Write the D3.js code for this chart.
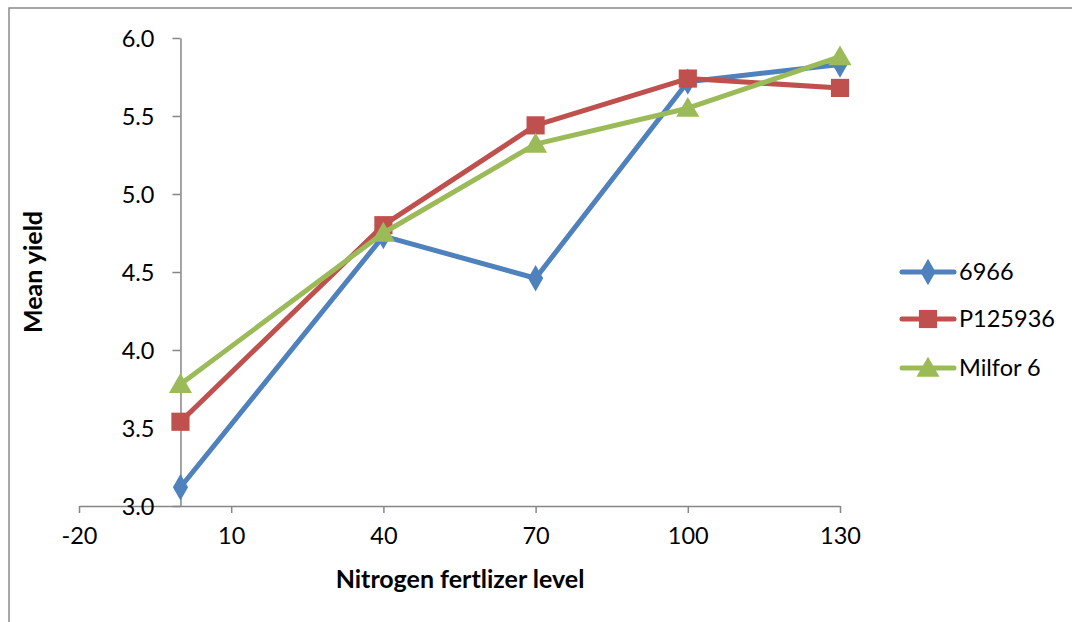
<!DOCTYPE html>
<html>
<head>
<meta charset="utf-8">
<script src="https://cdn.jsdelivr.net/npm/d3@7"></script>
<style>
  body { margin: 0; background: #fff; }
  svg { display: block; font-family: Lato, "Open Sans", sans-serif; }
</style>
</head>
<body>
<svg id="chart" width="1072" height="622"></svg>
<script>
// ---- data ----
const nitrogenLevels = [0, 40, 70, 100, 130];
const seriesNames = ["6966", "P125936", "Milfor 6"];
const yield6966 = [3.12, 4.73, 4.46, 5.72, 5.83];
const yieldP125936 = [3.54, 4.80, 5.44, 5.74, 5.68];
const yieldMilfor6 = [3.78, 4.75, 5.32, 5.55, 5.88];
const xTicks = [-20, 10, 40, 70, 100, 130];
const yTicks = [3.0, 3.5, 4.0, 4.5, 5.0, 5.5, 6.0];

const colors = ["#4F81BD", "#C0504D", "#9BBB59"];
const shapes = [d3.symbolDiamond, d3.symbolSquare, d3.symbolTriangle];
const symSizes = [200, 330, 230];

const series = seriesNames.map((name, i) => ({
  name,
  values: [yield6966, yieldP125936, yieldMilfor6][i].map((v, j) => ({ x: nitrogenLevels[j], y: v }))
}));

const svg = d3.select("#chart");

// outer border
svg.append("rect")
  .attr("x", 9).attr("y", 8)
  .attr("width", 1100).attr("height", 700)
  .attr("fill", "none").attr("stroke", "#8a8a8a").attr("stroke-width", 1.5);

const x = d3.scaleLinear().domain([-20, 130]).range([79, 840]);
const y = d3.scaleLinear().domain([3, 6]).range([506, 38]);

const axisColor = "#868686";
const fontSize = 23.5;

// x axis at y=3.0
const xAxisG = svg.append("g")
  .attr("transform", `translate(0,${y(3)})`)
  .call(d3.axisBottom(x).tickValues(xTicks).tickSize(7).tickSizeOuter(0).tickPadding(14).tickFormat(d => String(d)));
// y axis at x=0
const yAxisG = svg.append("g")
  .attr("transform", `translate(${x(0)},0)`)
  .call(d3.axisLeft(y).tickValues(yTicks).tickSize(8).tickSizeOuter(0).tickPadding(18).tickFormat(d3.format(".1f")));

[xAxisG, yAxisG].forEach(g => {
  g.select(".domain").attr("stroke", axisColor).attr("stroke-width", 1.5);
  g.selectAll(".tick line").attr("stroke", axisColor).attr("stroke-width", 1.5);
  g.selectAll(".tick text").attr("fill", "#000").style("font-size", fontSize + "px").style("font-family", "Lato, sans-serif");
});
yAxisG.selectAll(".tick text").attr("dy", "0.36em");

// axis titles
svg.append("text")
  .attr("x", 460).attr("y", 588)
  .attr("text-anchor", "middle")
  .style("font-size", "25px").style("font-weight", "bold")
  .text("Nitrogen fertlizer level");
svg.append("text")
  .attr("transform", "translate(42,272) rotate(-90)")
  .attr("text-anchor", "middle")
  .style("font-size", "25px").style("font-weight", "bold")
  .text("Mean yield");

// lines
const line = d3.line().x(d => x(d.x)).y(d => y(d.y));
const plot = svg.append("g");
series.forEach((s, i) => {
  plot.append("path")
    .datum(s.values)
    .attr("fill", "none")
    .attr("stroke", colors[i])
    .attr("stroke-width", 5)
    .attr("stroke-linejoin", "round")
    .attr("stroke-linecap", "round")
    .attr("d", line);
  plot.selectAll(null)
    .data(s.values)
    .enter().append("path")
    .attr("transform", d => `translate(${x(d.x)},${y(d.y) + (i === 2 ? 2 : 0)})`)
    .attr("d", d3.symbol().type(shapes[i]).size(symSizes[i]))
    .attr("fill", colors[i]);
});

// legend
const legendY = [272, 319, 368];
const leg = svg.append("g");
series.forEach((s, i) => {
  const g = leg.append("g").attr("transform", `translate(0,${legendY[i]})`);
  g.append("line")
    .attr("x1", 902).attr("x2", 954)
    .attr("y1", 0).attr("y2", 0)
    .attr("stroke", colors[i]).attr("stroke-width", 5).attr("stroke-linecap", "round");
  g.append("path")
    .attr("transform", `translate(928,${i === 2 ? 2 : 0})`)
    .attr("d", d3.symbol().type(shapes[i]).size(symSizes[i]))
    .attr("fill", colors[i]);
  g.append("text")
    .attr("x", 959).attr("y", 0).attr("dy", "0.36em")
    .style("font-size", "23.5px")
    .text(s.name);
});
</script>
</body>
</html>
